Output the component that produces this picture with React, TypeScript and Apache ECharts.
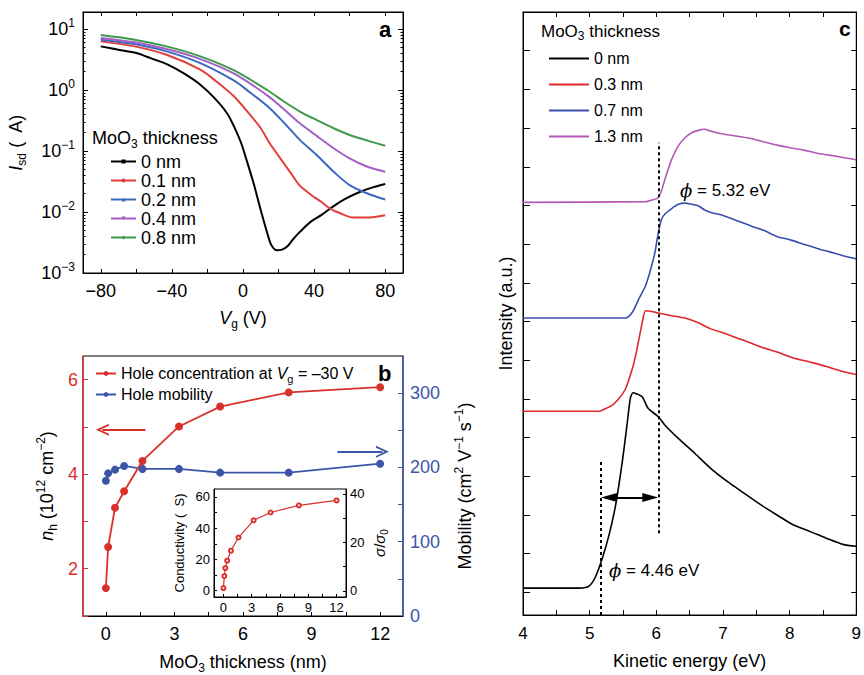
import React, { useEffect, useRef } from 'react';
import * as echarts from 'echarts';

const FONT = '"Liberation Sans", Arial, Helvetica, sans-serif';
const SERIF = '"DejaVu Serif", "Liberation Serif", serif';

// ---------- Panel a : Isd vs Vg ----------
const thicknessA = ['0 nm', '0.1 nm', '0.2 nm', '0.4 nm', '0.8 nm'];
const colorsA = ['#000000', '#e23f3a', '#3a68bf', '#a25fc6', '#3c9a4b'];
const symbolsA = ['rect', 'circle', 'triangle', 'path://M0,0 L10,0 L5,10 Z', 'diamond'];
const vgA0 = [-80, -70, -60, -52, -42, -33, -24, -16, -9, -5, -1, 2, 6, 10, 14, 16, 19, 22, 25, 28, 32, 38, 44, 51, 58, 66, 73, 80];
const isdA0 = [5.19, 4.57, 4.03, 3.33, 2.59, 1.85, 1.22, 0.735, 0.416, 0.251, 0.134, 0.0711, 0.0294, 0.0107, 0.00416, 0.00285, 0.00236, 0.00242, 0.00274, 0.00353, 0.00472, 0.00689, 0.00887, 0.0125, 0.0167, 0.0215, 0.0253, 0.0287];
const vgA1 = [-80, -61, -43, -24, -15, -5, 4, 10, 15, 21, 27, 32, 38, 44, 49, 55, 62, 70, 80];
const isdA1 = [6.27, 5.19, 3.78, 2.15, 1.38, 0.782, 0.391, 0.236, 0.134, 0.0757, 0.043, 0.027, 0.0194, 0.0147, 0.0114, 0.00944, 0.00813, 0.00813, 0.00887];
const vgA2 = [-80, -61, -43, -24, -5, 4, 14, 23, 32, 42, 51, 60, 70, 80];
const isdA2 = [6.68, 5.66, 4.3, 2.76, 1.42, 0.91, 0.536, 0.292, 0.152, 0.0828, 0.0457, 0.0276, 0.0201, 0.016];
const vgA3 = [-80, -61, -43, -24, -5, 14, 23, 32, 42, 51, 60, 70, 80];
const isdA3 = [7.11, 6.04, 4.69, 3.21, 1.85, 0.802, 0.484, 0.285, 0.172, 0.111, 0.0757, 0.0552, 0.0457];
const vgA4 = [-80, -61, -43, -24, -5, 14, 23, 32, 42, 51, 60, 70, 80];
const isdA4 = [7.96, 6.68, 5.19, 3.56, 2.09, 0.982, 0.647, 0.444, 0.316, 0.236, 0.183, 0.148, 0.122];
const vgListA = [vgA0, vgA1, vgA2, vgA3, vgA4];
const isdListA = [isdA0, isdA1, isdA2, isdA3, isdA4];
const vgTicks = [-80, -60, -40, -20, 0, 20, 40, 60, 80];
const vgLabels = [-80, -40, 0, 40, 80];
const isdMinorTicks = [
  0.002, 0.003, 0.004, 0.005, 0.006, 0.007, 0.008, 0.009,
  0.02, 0.03, 0.04, 0.05, 0.06, 0.07, 0.08, 0.09,
  0.2, 0.3, 0.4, 0.5, 0.6, 0.7, 0.8, 0.9,
  2, 3, 4, 5, 6, 7, 8, 9,
];

// ---------- Panel b : hole concentration & mobility ----------
const thickB = [0, 0.1, 0.4, 0.8, 1.6, 3.2, 5, 8, 12];
const holeConc = [1.59, 2.46, 3.29, 3.64, 4.28, 5.01, 5.43, 5.73, 5.84];
const holeMob = [182, 192, 197, 202, 198, 198, 193, 193, 205];
const thickTicksB = [0, 1.5, 3, 4.5, 6, 7.5, 9, 10.5, 12];
const thickLabelsB = [0, 3, 6, 9, 12];
const concTicks = [1, 2, 3, 4, 5, 6];
const concLabels = [2, 4, 6];
const mobTicks = [50, 100, 150, 200, 250, 300];
const mobLabels = [0, 100, 200, 300];
// inset
const thickInset = [0, 0.1, 0.2, 0.4, 0.8, 1.6, 3.2, 5, 8, 12];
const conductivity = [1.7, 9.4, 14.5, 19.2, 25.6, 34, 45, 50, 54.5, 57.7];
const condTicks = [0, 10, 20, 30, 40, 50, 60];
const condLabels = [0, 20, 40, 60];
const ratioTicks = [0, 10, 20, 30, 40];
const ratioLabels = [0, 20, 40];

// ---------- Panel c : UPS spectra ----------
const thicknessC = ['0 nm', '0.3 nm', '0.7 nm', '1.3 nm'];
const colorsC = ['#000000', '#e0282a', '#3a4fae', '#b258b6'];
const ekC0 = [4, 4.85, 4.99, 5.09, 5.19, 5.29, 5.39, 5.49, 5.56, 5.61, 5.65, 5.69, 5.79, 5.88, 6.03, 6.13, 6.33, 6.58, 6.82, 7.07, 7.32, 7.57, 7.81, 8.06, 8.31, 8.55, 8.8, 9.0];
const intC0 = [0.11, 0.11, 0.16, 0.41, 0.88, 1.48, 2.26, 3.38, 4.32, 5.01, 5.16, 5.14, 5.05, 4.75, 4.54, 4.32, 3.98, 3.59, 3.2, 2.86, 2.56, 2.26, 2.0, 1.74, 1.57, 1.4, 1.24, 1.19];
const ekC1 = [4, 5.14, 5.24, 5.34, 5.44, 5.54, 5.64, 5.69, 5.74, 5.8, 5.84, 5.93, 6.03, 6.23, 6.43, 6.63, 6.82, 7.02, 7.22, 7.32, 7.57, 7.81, 8.06, 8.31, 8.55, 8.8, 9.0];
const intC1 = [4.68, 4.68, 4.75, 4.84, 5.01, 5.27, 5.78, 6.12, 6.55, 7.07, 7.28, 7.26, 7.22, 7.15, 7.09, 6.97, 6.81, 6.7, 6.57, 6.51, 6.34, 6.21, 6.06, 5.95, 5.84, 5.71, 5.63];
const ekC2 = [4, 5.54, 5.64, 5.74, 5.84, 5.93, 5.98, 6.03, 6.08, 6.13, 6.23, 6.33, 6.43, 6.53, 6.63, 6.72, 6.82, 7.02, 7.22, 7.42, 7.62, 7.81, 8.01, 8.21, 8.41, 8.6, 8.8, 9.0];
const intC2 = [7.09, 7.09, 7.24, 7.59, 7.93, 8.44, 8.79, 9.3, 9.65, 9.78, 9.92, 10.03, 10.06, 10.03, 9.99, 9.89, 9.82, 9.73, 9.6, 9.47, 9.35, 9.2, 9.11, 9.0, 8.89, 8.8, 8.7, 8.62];
const ekC3 = [4, 5.84, 5.93, 6.02, 6.07, 6.13, 6.18, 6.23, 6.33, 6.43, 6.53, 6.63, 6.72, 6.82, 7.02, 7.22, 7.42, 7.62, 7.81, 8.01, 8.21, 8.41, 8.6, 8.8, 9.0];
const intC3 = [10.08, 10.1, 10.14, 10.19, 10.34, 10.68, 10.94, 11.19, 11.54, 11.75, 11.88, 11.94, 11.97, 11.92, 11.84, 11.79, 11.73, 11.64, 11.56, 11.49, 11.43, 11.35, 11.3, 11.24, 11.18];
const ekListC = [ekC0, ekC1, ekC2, ekC3];
const intListC = [intC0, intC1, intC2, intC3];
const ekTicks = [4, 4.5, 5, 5.5, 6, 6.5, 7, 7.5, 8, 8.5, 9];
const ekLabels = [4, 5, 6, 7, 8, 9];
const intTicks = [0, 1, 2, 3, 4, 5, 6, 7, 8, 9, 10, 11, 12, 13, 14, 15];
const phiLow = 5.17;
const phiHigh = 6.03;

const RED = '#d9302c';
const BLUE = '#3d55a8';

const mkRich = (size: number, lh: number, color = '#000') => ({
  t: { fontSize: size, fontFamily: FONT, lineHeight: lh, color },
  i: { fontSize: size, fontFamily: FONT, fontStyle: 'italic', lineHeight: lh, color },
  sub: { fontSize: Math.round(size * 0.68), fontFamily: FONT, lineHeight: Math.round(size * 0.62), verticalAlign: 'bottom', color },
  sup: { fontSize: Math.round(size * 0.68), fontFamily: FONT, lineHeight: Math.round(size * 0.62), verticalAlign: 'top', color },
  b: { fontSize: size, fontFamily: FONT, lineHeight: lh, color },
});

const minus = (v: number) => (v < 0 ? '\u2212' + String(-v) : String(v));

const logLabel = (v: number) => {
  const l = Math.log10(v);
  const e = Math.round(l);
  if (Math.abs(l - e) > 1e-6) return '';
  return `{b|10}{sup|${minus(e)}}`;
};

const tickStyle = (color: string, len: number, custom?: number[]) => ({
  show: true,
  inside: true,
  length: len,
  lineStyle: { color, width: 1 },
  ...(custom ? { customValues: custom } : {}),
});

export default function App() {
  const ref = useRef<HTMLDivElement>(null);

  useEffect(() => {
    if (!ref.current) return;
    const chart = echarts.init(ref.current, undefined, { renderer: 'svg' });

    const chevron = 'path://M0,10 L5,0 L10,10 L8.4,10 L5,3.2 L1.6,10 Z';

    const seriesA = thicknessA.map((name, k) => ({
      name: 'a|' + name,
      type: 'line',
      xAxisIndex: 0,
      yAxisIndex: 0,
      data: vgListA[k].map((v, j) => [v, isdListA[k][j]]),
      showSymbol: false,
      symbol: symbolsA[k],
      smooth: 0.3,
      lineStyle: { color: colorsA[k], width: 2 },
      itemStyle: { color: colorsA[k] },
      z: 3,
    }));

    const seriesC = thicknessC.map((name, k) => ({
      name: 'c|' + name,
      type: 'line',
      xAxisIndex: 4,
      yAxisIndex: 6,
      data: ekListC[k].map((v, j) => [v, intListC[k][j]]),
      showSymbol: false,
      symbol: 'none',
      smooth: 0.25,
      lineStyle: { color: colorsC[k], width: 1.6 },
      itemStyle: { color: colorsC[k] },
      ...(k === 0
        ? {
            markLine: {
              silent: true,
              animation: false,
              label: { show: false },
              symbol: 'none',
              lineStyle: { color: '#000', type: [3, 3], width: 2 },
              data: [
                [{ coord: [phiHigh, 1.53] }, { coord: [phiHigh, 11.62] }],
                [{ coord: [phiLow, -0.585] }, { coord: [phiLow, 3.42] }],
                [
                  { coord: [phiLow + 0.12, 2.45], symbol: 'triangle', symbolSize: [9, 16], lineStyle: { type: 'solid', width: 2, color: '#000' } },
                  { coord: [phiHigh - 0.12, 2.45], symbol: 'triangle', symbolSize: [9, 16] },
                ],
              ],
            },
          }
        : {}),
    }));

    const richA = mkRich(18, 24);
    const richB = mkRich(18, 24);
    const richLegB = mkRich(16, 21);
    const richInset = mkRich(13, 17);
    const richSigma = mkRich(15, 19);
    const richC = mkRich(17, 22);

    const option: any = {
      animation: false,
      backgroundColor: '#fff',
      textStyle: { fontFamily: FONT },
      grid: [
        { left: 83, top: 12, width: 320, height: 261, show: true, borderColor: '#000', borderWidth: 1, backgroundColor: 'transparent' },
        { left: 83, top: 356, width: 320, height: 262, show: true, borderColor: '#000', borderWidth: 1, backgroundColor: 'transparent' },
        { left: 214, top: 489, width: 132, height: 108, show: true, borderColor: '#000', borderWidth: 1, backgroundColor: '#fff' },
        { left: 523, top: 12, width: 337, height: 605, show: true, borderColor: '#000', borderWidth: 1, backgroundColor: 'transparent' },
      ],
      legend: [
        {
          data: thicknessA.map((n) => 'a|' + n),
          formatter: (n: string) => n.split('|')[1],
          orient: 'vertical',
          left: 110,
          top: 152,
          padding: 0,
          itemWidth: 25,
          itemHeight: 5,
          itemGap: 0,
          selectedMode: false,
          textStyle: { fontSize: 18, fontFamily: FONT, color: '#000', lineHeight: 19 },
        },
        {
          data: ['conc', 'mob'],
          formatter: (n: string) =>
            n === 'conc' ? '{t|Hole concentration at }{i|V}{sub|g}{t| = \u201330 V}' : '{t|Hole mobility}',
          orient: 'vertical',
          left: 95,
          top: 363,
          padding: 0,
          itemWidth: 20,
          itemHeight: 6,
          itemGap: 0,
          selectedMode: false,
          textStyle: { fontSize: 16, fontFamily: FONT, color: '#000', lineHeight: 21, rich: richLegB },
        },
        {
          data: thicknessC.map((n) => 'c|' + n),
          formatter: (n: string) => n.split('|')[1],
          orient: 'vertical',
          left: 549,
          top: 48,
          padding: 0,
          icon: 'rect',
          itemWidth: 40,
          itemHeight: 2,
          itemGap: 5,
          selectedMode: false,
          textStyle: { fontSize: 16, fontFamily: FONT, color: '#000', lineHeight: 21 },
        },
      ],
      xAxis: [
        {
          type: 'value', gridIndex: 0, min: -90, max: 90, position: 'bottom',
          axisLine: { show: true, onZero: false, lineStyle: { color: '#000' } },
          axisTick: tickStyle('#000', 4, vgTicks),
          axisLabel: { customValues: vgLabels, formatter: minus, fontSize: 18, color: '#000', fontFamily: FONT, margin: 9 },
          splitLine: { show: false },
          name: '{i|V}{sub|g}{t| (V)}', nameLocation: 'middle', nameGap: 33,
          nameTextStyle: { rich: richA, color: '#000' },
        },
        {
          type: 'value', gridIndex: 0, min: -90, max: 90, position: 'top',
          axisLine: { show: true, onZero: false, lineStyle: { color: '#000' } },
          axisTick: tickStyle('#000', 4, vgTicks),
          axisLabel: { show: false },
          splitLine: { show: false },
        },
        {
          type: 'value', gridIndex: 1, min: -1, max: 13, position: 'bottom',
          axisLine: { show: true, onZero: false, lineStyle: { color: '#000' } },
          axisTick: tickStyle('#000', 4, thickTicksB),
          axisLabel: { customValues: thickLabelsB, fontSize: 18, color: '#000', fontFamily: FONT, margin: 9 },
          splitLine: { show: false },
          name: '{t|MoO}{sub|3}{t| thickness (nm)}', nameLocation: 'middle', nameGap: 34,
          nameTextStyle: { rich: richB, color: '#000' },
        },
        {
          type: 'value', gridIndex: 2, min: -1, max: 13, position: 'bottom',
          axisLine: { show: true, onZero: false, lineStyle: { color: '#000' } },
          axisTick: tickStyle('#000', 3, thickTicksB),
          axisLabel: { customValues: thickLabelsB, fontSize: 13, color: '#000', fontFamily: FONT, margin: 4 },
          splitLine: { show: false },
        },
        {
          type: 'value', gridIndex: 3, min: 4, max: 9, position: 'bottom',
          axisLine: { show: true, onZero: false, lineStyle: { color: '#000' } },
          axisTick: tickStyle('#000', 5, ekTicks),
          axisLabel: { customValues: ekLabels, fontSize: 17, color: '#000', fontFamily: FONT, margin: 10 },
          splitLine: { show: false },
          name: 'Kinetic energy (eV)', nameLocation: 'middle', nameGap: 37,
          nameTextStyle: { fontSize: 18, fontFamily: FONT, color: '#000' },
        },
        {
          type: 'value', gridIndex: 3, min: 4, max: 9, position: 'top',
          axisLine: { show: true, onZero: false, lineStyle: { color: '#000' } },
          axisTick: tickStyle('#000', 5, ekTicks),
          axisLabel: { show: false },
          splitLine: { show: false },
        },
      ],
      yAxis: [
        {
          type: 'log', gridIndex: 0, logBase: 10, min: 0.001, max: 19, position: 'left',
          axisLine: { show: true, onZero: false, lineStyle: { color: '#000' } },
          axisTick: tickStyle('#000', 5),
          axisLabel: { formatter: logLabel, rich: richA, color: '#000', margin: 8, showMaxLabel: false },
          splitLine: { show: false },
          name: '{i|I}{sub|sd}{t| (  A)}', nameLocation: 'middle', nameGap: 55, nameRotate: 90,
          nameTextStyle: { rich: richA, color: '#000' },
        },
        {
          type: 'log', gridIndex: 0, logBase: 10, min: 0.001, max: 19, position: 'right',
          axisLine: { show: true, onZero: false, lineStyle: { color: '#000' } },
          axisTick: tickStyle('#000', 5),
          axisLabel: { show: false },
          splitLine: { show: false },
        },
        {
          type: 'value', gridIndex: 1, min: 1, max: 6.5, position: 'left',
          axisLine: { show: true, onZero: false, lineStyle: { color: RED, width: 1.5 } },
          axisTick: tickStyle(RED, 5, concTicks),
          axisLabel: { customValues: concLabels, fontSize: 18, color: RED, fontFamily: FONT, margin: 5 },
          splitLine: { show: false },
          name: '{i|n}{sub|h}{t| (10}{sup|12}{t| cm}{sup|\u22122}{t|)}', nameLocation: 'middle', nameGap: 24, nameRotate: 90,
          nameTextStyle: { rich: richB, color: '#000' },
        },
        {
          type: 'value', gridIndex: 1, min: 0, max: 350, position: 'right',
          axisLine: { show: true, onZero: false, lineStyle: { color: BLUE, width: 1.5 } },
          axisTick: tickStyle(BLUE, 5, mobTicks),
          axisLabel: { customValues: mobLabels, fontSize: 18, color: BLUE, fontFamily: FONT, margin: 7 },
          splitLine: { show: false },
          name: '{t|Mobility (cm}{sup|2}{t| V}{sup|\u22121}{t| s}{sup|\u22121}{t|)}', nameLocation: 'middle', nameGap: 50, nameRotate: 90,
          nameTextStyle: { rich: richB, color: '#000' },
        },
        {
          type: 'value', gridIndex: 2, min: -4, max: 65, position: 'left',
          axisLine: { show: true, onZero: false, lineStyle: { color: '#000' } },
          axisTick: tickStyle('#000', 3, condTicks),
          axisLabel: { customValues: condLabels, fontSize: 13, color: '#000', fontFamily: FONT, margin: 4 },
          splitLine: { show: false },
          name: '{t|Conductivity (  S)}', nameLocation: 'middle', nameGap: 26, nameRotate: 90,
          nameTextStyle: { rich: richInset, color: '#000' },
        },
        {
          type: 'value', gridIndex: 2, min: -2.5, max: 42, position: 'right',
          axisLine: { show: true, onZero: false, lineStyle: { color: '#000' } },
          axisTick: tickStyle('#000', 3, ratioTicks),
          axisLabel: { customValues: ratioLabels, fontSize: 13, color: '#000', fontFamily: FONT, margin: 4 },
          splitLine: { show: false },
          name: '{i|σ}{t|/}{i|σ}{sub|0}', nameLocation: 'middle', nameGap: 24, nameRotate: 90,
          nameTextStyle: { rich: richSigma, color: '#000' },
        },
        {
          type: 'value', gridIndex: 3, min: -0.585, max: 15.0, position: 'left',
          axisLine: { show: true, onZero: false, lineStyle: { color: '#000' } },
          axisTick: tickStyle('#000', 7, intTicks),
          axisLabel: { show: false },
          splitLine: { show: false },
          name: 'Intensity (a.u.)', nameLocation: 'middle', nameGap: 8, nameRotate: 90,
          nameTextStyle: { fontSize: 18, fontFamily: FONT, color: '#000' },
        },
        {
          type: 'value', gridIndex: 3, min: -0.585, max: 15.0, position: 'right',
          axisLine: { show: true, onZero: false, lineStyle: { color: '#000' } },
          axisTick: tickStyle('#000', 5, intTicks),
          axisLabel: { show: false },
          splitLine: { show: false },
        },
        {
          type: 'log', gridIndex: 0, logBase: 10, min: 0.001, max: 19, position: 'left',
          axisLine: { show: false, onZero: false },
          axisTick: tickStyle('#000', 2.5, isdMinorTicks),
          axisLabel: { show: false },
          splitLine: { show: false },
        },
        {
          type: 'log', gridIndex: 0, logBase: 10, min: 0.001, max: 19, position: 'right',
          axisLine: { show: false, onZero: false },
          axisTick: tickStyle('#000', 2.5, isdMinorTicks),
          axisLabel: { show: false },
          splitLine: { show: false },
        },
      ],
      series: [
        ...seriesA,
        {
          name: 'conc',
          type: 'line',
          xAxisIndex: 2,
          yAxisIndex: 2,
          data: thickB.map((t, j) => [t, holeConc[j]]),
          symbol: 'circle',
          symbolSize: 8,
          lineStyle: { color: RED, width: 1.8 },
          itemStyle: { color: RED },
          z: 4,
          markLine: {
            silent: true,
            animation: false,
            label: { show: false },
            symbol: ['none', chevron],
            symbolSize: [12, 13],
            lineStyle: { color: RED, type: 'solid', width: 1.8 },
            data: [[{ coord: [1.73, 4.94] }, { coord: [-0.15, 4.94] }]],
          },
        },
        {
          name: 'mob',
          type: 'line',
          xAxisIndex: 2,
          yAxisIndex: 3,
          data: thickB.map((t, j) => [t, holeMob[j]]),
          symbol: 'circle',
          symbolSize: 8,
          lineStyle: { color: BLUE, width: 1.8 },
          itemStyle: { color: BLUE },
          z: 3,
          markLine: {
            silent: true,
            animation: false,
            label: { show: false },
            symbol: ['none', chevron],
            symbolSize: [12, 13],
            lineStyle: { color: BLUE, type: 'solid', width: 1.8 },
            data: [[{ coord: [10.13, 221] }, { coord: [12.1, 221] }]],
          },
        },
        {
          name: 'cond',
          type: 'line',
          xAxisIndex: 3,
          yAxisIndex: 4,
          data: thickInset.map((t, j) => [t, conductivity[j]]),
          symbol: 'emptyCircle',
          symbolSize: 4,
          lineStyle: { color: RED, width: 1.2 },
          itemStyle: { color: RED, borderWidth: 1 },
          z: 6,
        },
        ...seriesC,
      ],
      graphic: [
        { type: 'text', x: 379, y: 29, style: { text: 'a', font: `bold 22px ${FONT}`, fill: '#000', textVerticalAlign: 'middle', verticalAlign: 'middle' } },
        { type: 'text', x: 378, y: 373, style: { text: 'b', font: `bold 22px ${FONT}`, fill: '#000', textVerticalAlign: 'middle', verticalAlign: 'middle' } },
        { type: 'text', x: 839, y: 28, style: { text: 'c', font: `bold 21px ${FONT}`, fill: '#000', textVerticalAlign: 'middle', verticalAlign: 'middle' } },
        { type: 'text', x: 92, y: 138, style: { text: '{t|MoO}{sub|3}{t| thickness}', rich: richA, fill: '#000', textVerticalAlign: 'middle', verticalAlign: 'middle' } },
        { type: 'text', x: 541, y: 31, style: { text: '{t|MoO}{sub|3}{t| thickness}', rich: richC, fill: '#000', textVerticalAlign: 'middle', verticalAlign: 'middle' } },
        {
          type: 'text', x: 680, y: 190,
          style: {
            text: '{p|\u03d5}{t| = 5.32 eV}',
            rich: { p: { fontFamily: SERIF, fontStyle: 'italic', fontSize: 18, lineHeight: 22 }, t: { fontFamily: FONT, fontSize: 17, lineHeight: 22 } },
            fill: '#000', textVerticalAlign: 'middle', verticalAlign: 'middle',
          },
        },
        {
          type: 'text', x: 609, y: 570,
          style: {
            text: '{p|\u03d5}{t| = 4.46 eV}',
            rich: { p: { fontFamily: SERIF, fontStyle: 'italic', fontSize: 18, lineHeight: 22 }, t: { fontFamily: FONT, fontSize: 17, lineHeight: 22 } },
            fill: '#000', textVerticalAlign: 'middle', verticalAlign: 'middle',
          },
        },
      ],
    };

    chart.setOption(option);
    return () => chart.dispose();
  }, []);

  return (
    <div
      ref={ref}
      style={{ position: 'fixed', left: 0, top: 0, width: 864, height: 675, background: '#fff' }}
    />
  );
}
